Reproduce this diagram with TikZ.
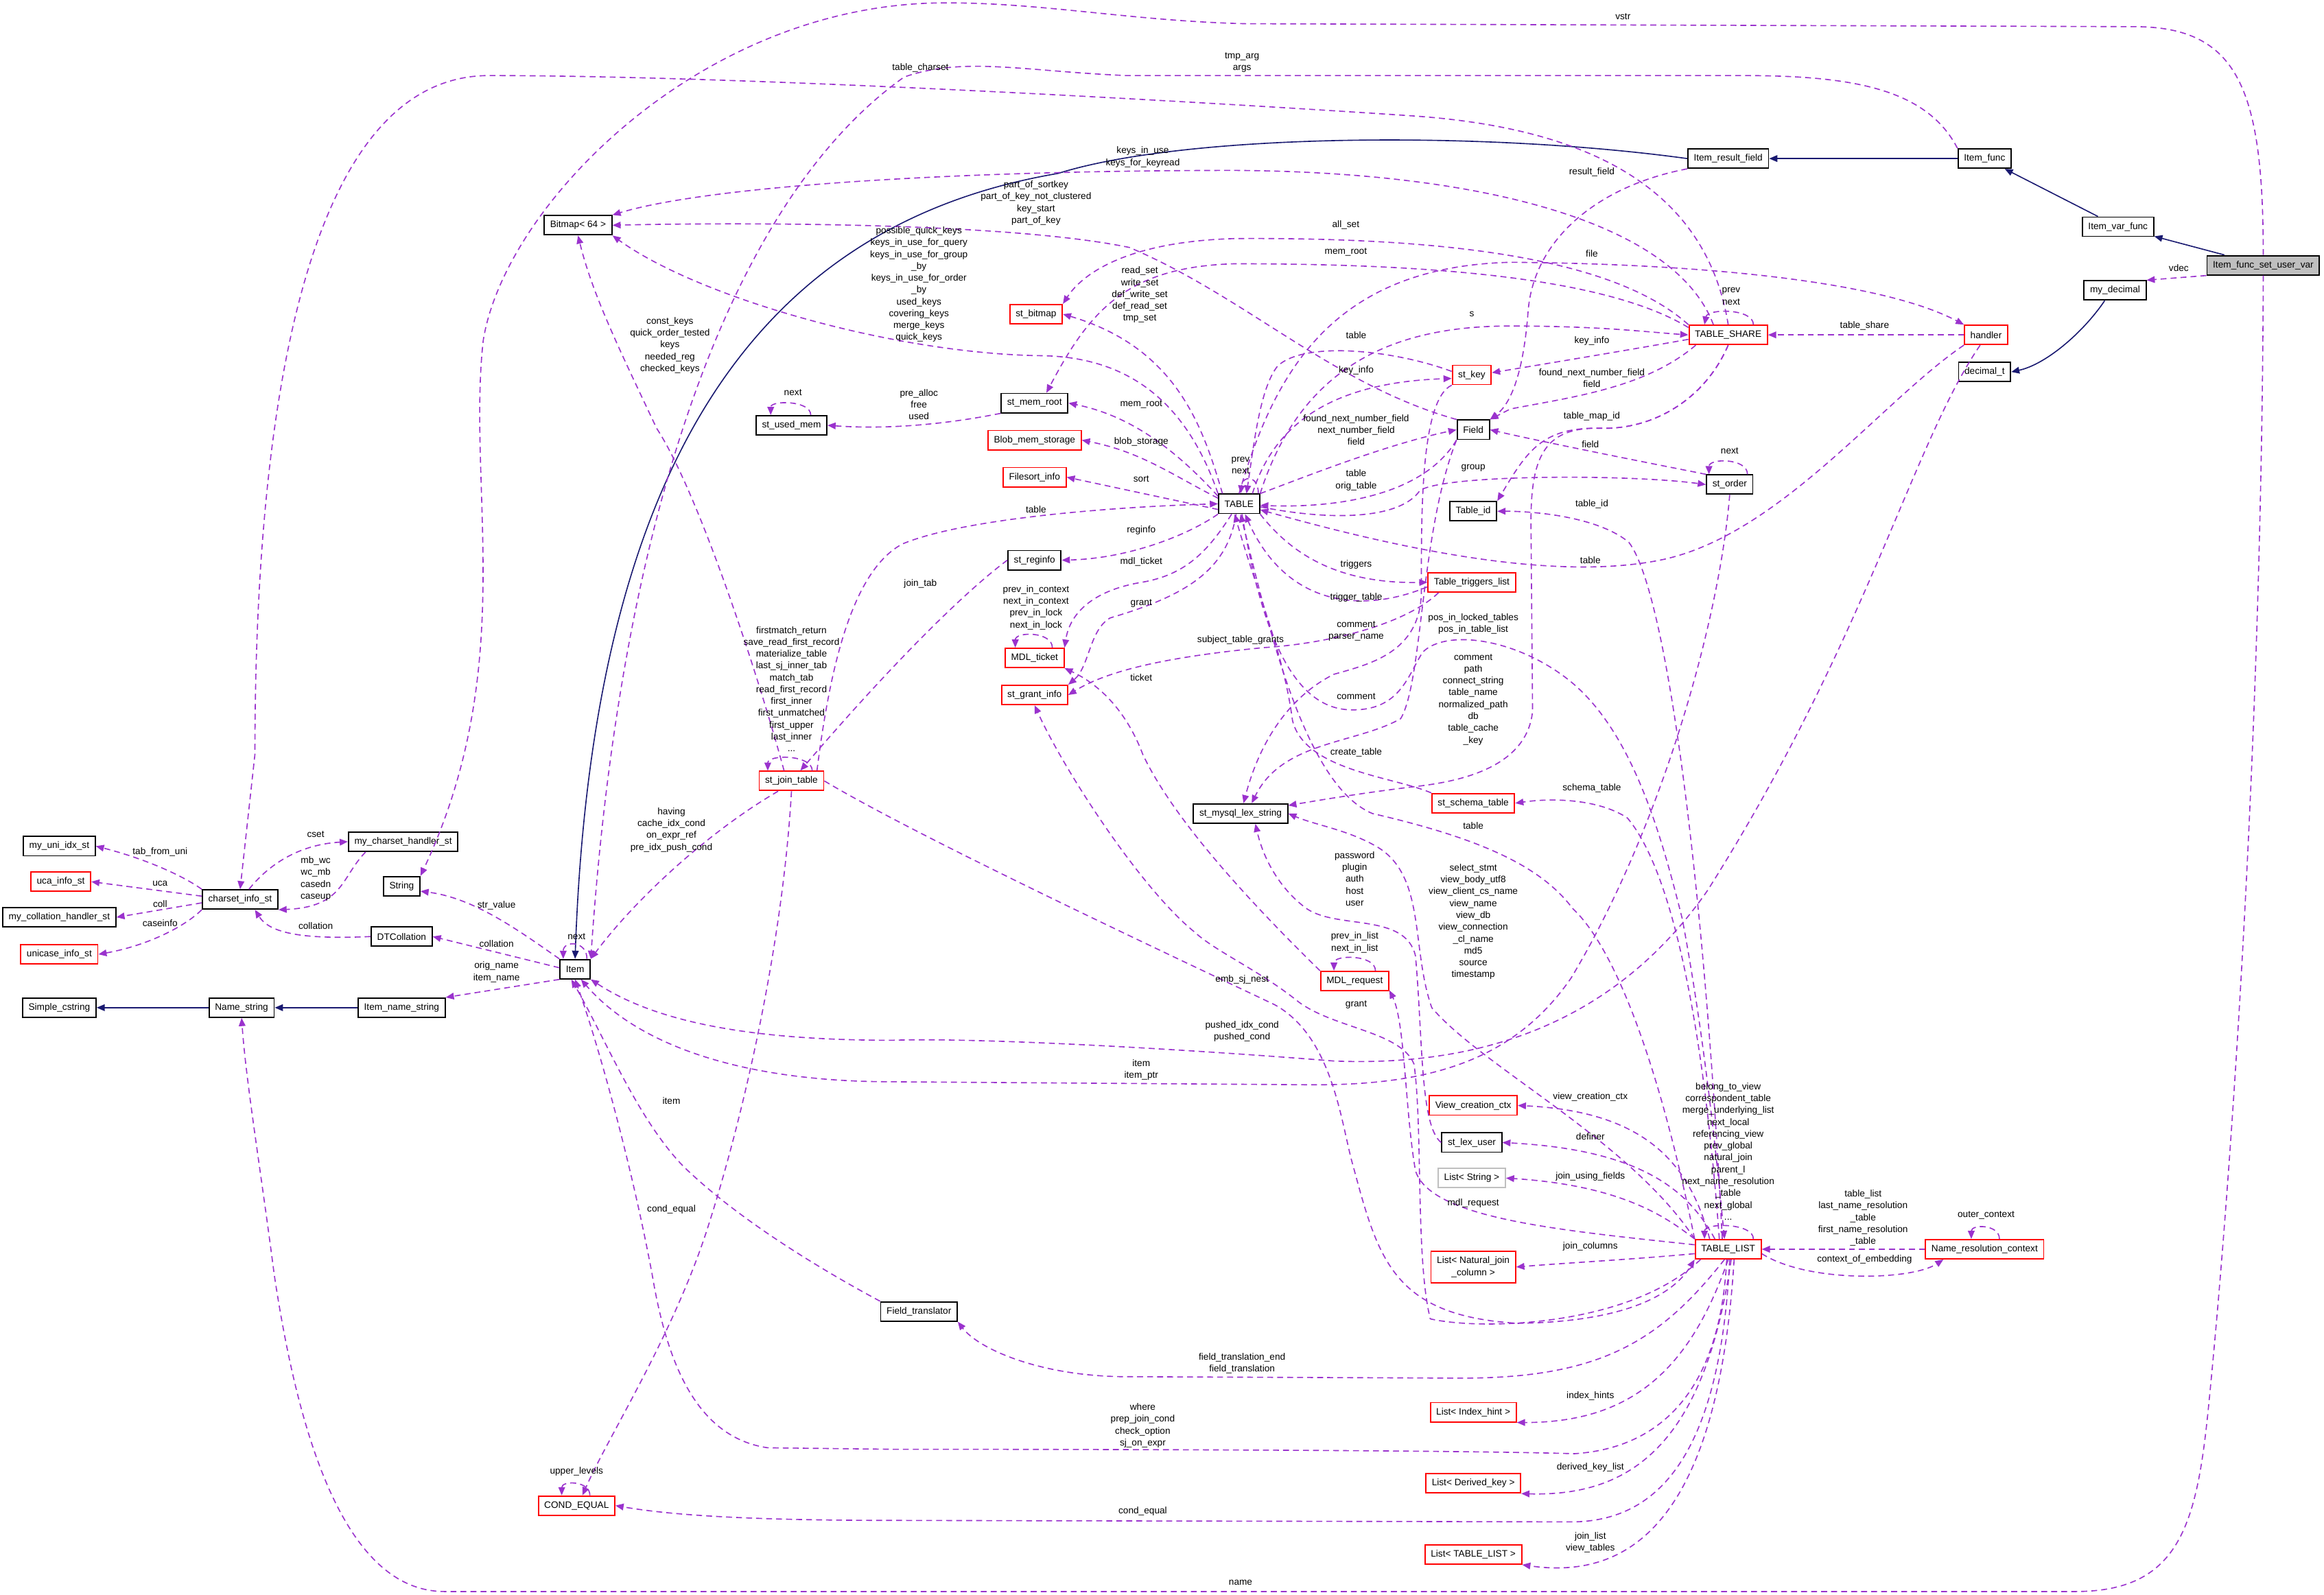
\documentclass[tikz,border=0pt]{standalone}
\usepackage{fontspec}
\setmainfont{Liberation Sans}
\usetikzlibrary{arrows.meta}
\definecolor{relc}{RGB}{154,50,205}
\definecolor{inhc}{RGB}{25,25,112}
\definecolor{boxgrey}{RGB}{191,191,191}
\newcommand{\dxfont}{\fontsize{7.2}{9.1}\selectfont}
\tikzset{
  cls/.style={draw=black, fill=white, line width=0.35mm, font=\dxfont, align=center,
    inner xsep=1.6mm, inner ysep=0.3mm, minimum height=5.2mm},
  clsred/.style={cls, draw=red},
  clsgrey/.style={cls, draw=boxgrey},
  clsmain/.style={cls, fill=boxgrey},
  % member and base class edges
  rel/.style={draw=relc, line width=0.3mm, dash pattern=on 1.6mm off 1.1mm,
    -{Triangle[length=2.2mm,width=1.8mm]}},
  inh/.style={draw=inhc, line width=0.3mm, -{Triangle[length=2.2mm,width=1.8mm]}},
  lbl/.style={font=\dxfont, align=center, inner sep=0pt}
}

\begin{document}
\begin{tikzpicture}[x=0.4mm, y=-0.4mm]
  \useasboundingbox (0,0) rectangle (1568,1076);

  % classes
  \node[clsmain] (isu) at (1527,179) {Item\_func\_set\_user\_var};
  \node[cls] (ivf) at (1429,153) {Item\_var\_func};
  \node[cls] (ifn) at (1339,107) {Item\_func};
  \node[cls] (irf) at (1166,107) {Item\_result\_field};
  \node[cls] (mdec) at (1427,196) {my\_decimal};
  \node[cls] (dect) at (1339,251) {decimal\_t};
  \node[clsred] (hnd) at (1340,226) {handler};
  \node[clsred] (tshare) at (1166,226) {TABLE\_SHARE};
  \node[cls] (bmp) at (390,152) {Bitmap< 64 >};
  \node[clsred] (stbmp) at (699,212) {st\_bitmap};
  \node[clsred] (stkey) at (993,253) {st\_key};
  \node[cls] (fld) at (994,290) {Field};
  \node[cls] (memroot) at (698,272) {st\_mem\_root};
  \node[cls] (usedmem) at (534,287) {st\_used\_mem};
  \node[clsred] (blob) at (698,297) {Blob\_mem\_storage};
  \node[clsred] (fsort) at (698,322) {Filesort\_info};
  \node[cls] (tbl) at (836,340) {TABLE};
  \node[cls] (tid) at (994,345) {Table\_id};
  \node[cls] (order) at (1167,327) {st\_order};
  \node[cls] (reginfo) at (698,378) {st\_reginfo};
  \node[clsred] (trig) at (993,393) {Table\_triggers\_list};
  \node[clsred] (mdlt) at (698,444) {MDL\_ticket};
  \node[clsred] (grant) at (698,469) {st\_grant\_info};
  \node[clsred] (jtab) at (534,527) {st\_join\_table};
  \node[clsred] (schema) at (994,542) {st\_schema\_table};
  \node[cls] (lexstr) at (837,549) {st\_mysql\_lex\_string};
  \node[cls] (uniidx) at (40,571) {my\_uni\_idx\_st};
  \node[cls] (chh) at (272,568) {my\_charset\_handler\_st};
  \node[clsred] (uca) at (41,595) {uca\_info\_st};
  \node[cls] (str) at (271,598) {String};
  \node[cls] (cs) at (162,607) {charset\_info\_st};
  \node[cls] (coll) at (40,619) {my\_collation\_handler\_st};
  \node[cls] (dtc) at (271,632) {DTCollation};
  \node[clsred] (unic) at (40,644) {unicase\_info\_st};
  \node[cls] (item) at (388,654) {Item};
  \node[cls] (scs) at (40,680) {Simple\_cstring};
  \node[cls] (nstr) at (163,680) {Name\_string};
  \node[cls] (instr) at (271,680) {Item\_name\_string};
  \node[clsred] (mdlr) at (914,662) {MDL\_request};
  \node[clsred] (vcc) at (994,746) {View\_creation\_ctx};
  \node[cls] (lexuser) at (993,771) {st\_lex\_user};
  \node[clsgrey] (lstr) at (993,795) {List< String >};
  \node[clsred] (tl) at (1166,843) {TABLE\_LIST};
  \node[clsred] (nrc) at (1339,843) {Name\_resolution\_context};
  \node[clsred, minimum height=8.4mm] (lnjc) at (994,855) {List< Natural\_join\\\_column >};
  \node[cls] (ftr) at (620,885) {Field\_translator};
  \node[clsred] (lih) at (994,953) {List< Index\_hint >};
  \node[clsred] (ldk) at (994,1001) {List< Derived\_key >};
  \node[clsred] (condeq) at (389,1016) {COND\_EQUAL};
  \node[clsred] (ltl) at (994,1049) {List< TABLE\_LIST >};

  % inheritance
  \draw[inh] (isu) -- (ivf);
  \draw[inh] (ivf) -- (ifn);
  \draw[inh] (ifn) -- (irf);
  \draw[inh] (irf.west) .. controls (1000,88) and (800,90) .. (714,117) .. controls (520,150) and (400,300) .. (item.north);
  \draw[inh] ([xshift=-2.8mm]mdec.south) .. controls (1405,225) and (1380,246) .. (dect.east);
  \draw[inh] (instr) -- (nstr);
  \draw[inh] (nstr) -- (scs);

  % Item_func_set_user_var, Item_func, Item_result_field
  \draw[rel] (isu.north) .. controls (1527,60) and (1510,18) .. (1440,18) -- (840,16) .. controls (760,14) and (700,1) .. (632,2) .. controls (470,5) and (340,140) .. (326,230) .. controls (315,330) and (350,450) .. (str.north east);
  \draw[rel] (isu.south west) -- (mdec.north east);
  \draw[rel] (isu.south) .. controls (1526,500) and (1505,800) .. (1490,950) .. controls (1482,1030) and (1470,1074) .. (1400,1074) -- (300,1074) .. controls (230,1074) and (200,960) .. (185,860) .. controls (176,790) and (166,730) .. (nstr.south);
  \draw[rel] (ifn.north west) .. controls (1300,60) and (1250,51) .. (1176,51) -- (760,51) .. controls (690,48) and (650,38) .. (610,52) .. controls (500,130) and (420,330) .. (item.north east);
  \draw[rel] (irf.south west) .. controls (1080,125) and (1035,160) .. (1031,210) .. controls (1028,250) and (1020,272) .. (fld.north east);

  % TABLE_SHARE
  \draw[rel] (tshare.north) .. controls (1150,120) and (1060,85) .. (950,78) .. controls (800,68) and (500,51) .. (330,51) .. controls (200,51) and (172,300) .. (172,509) -- (cs.north);
  \draw[rel] ([xshift=-4mm]tshare.north) .. controls (1130,150) and (1000,116) .. (833,115) .. controls (650,115) and (480,125) .. (bmp.north east);
  \draw[rel] (tshare.north west) .. controls (1090,175) and (980,160) .. (833,161) .. controls (760,163) and (730,185) .. (stbmp.north east);
  \draw[rel] ([yshift=2mm]tshare.west) .. controls (1080,185) and (950,178) .. (833,178) .. controls (760,180) and (735,210) .. ([xshift=3.2mm]memroot.north);
  \draw[rel] ([yshift=-1.2mm]tshare.west) .. controls (1100,236) and (1040,246) .. ([yshift=0.6mm]stkey.east);
  \draw[rel] ([xshift=2mm]tshare.south west) .. controls (1110,262) and (1060,268) .. (1019,276) -- (fld.north east);
  \draw[rel] (tshare.south) .. controls (1150,270) and (1115,290) .. (1080,289) .. controls (1040,288) and (1030,305) .. (tid.north east);
  \draw[rel] (tshare.south) .. controls (1150,270) and (1115,290) .. (1080,289) .. controls (1040,288) and (1032,310) .. (1033,360) -- (1034,480) .. controls (1030,520) and (980,528) .. (953,531) .. controls (920,535) and (890,540) .. (lexstr);
  \draw[rel] ([xshift=6.8mm]tshare.north) .. controls +(0,4.4mm) and +(0.8mm,4.4mm) .. ([xshift=-6.4mm]tshare.north);

  % handler
  \draw[rel] (hnd) -- (tshare);
  \draw[rel] (hnd.south west) .. controls (1270,270) and (1200,362) .. (1120,378) .. controls (1050,392) and (950,372) .. ([yshift=-1.6mm]tbl.east);
  \draw[rel] ([xshift=-1.6mm]hnd.south) .. controls (1290,300) and (1260,430) .. (1152,601) .. controls (1090,690) and (1000,720) .. (900,716) .. controls (800,708) and (660,700) .. (602,702) .. controls (500,702) and (440,688) .. (item.south east);

  % TABLE
  \draw[rel] ([xshift=5.2mm]tbl.north) .. controls +(0,5mm) and +(0.6mm,5mm) .. ([xshift=0.4mm]tbl.north);
  \draw[rel] (tbl.north east) .. controls (880,240) and (950,220) .. (1019,220) .. controls (1080,220) and (1110,224) .. (tshare.west);
  \draw[rel] (tbl.north) .. controls (860,250) and (900,180) .. (1019,177) .. controls (1150,178) and (1270,190) .. (hnd.north west);
  \draw[rel] (tbl.north west) .. controls (800,270) and (760,240) .. (700,240) .. controls (600,238) and (470,200) .. (bmp.south east);
  \draw[rel] ([xshift=1.2mm]tbl.north west) .. controls (812,290) and (795,235) .. (stbmp.east);
  \draw[rel] (tbl.160) .. controls (790,300) and (760,280) .. (memroot.east);
  \draw[rel] (tbl.165) .. controls (790,320) and (770,305) .. (blob.east);
  \draw[rel] (tbl.195) -- (fsort.east);
  \draw[rel] (tbl.south west) .. controls (800,362) and (760,377) .. (reginfo.east);
  \draw[rel] ([xshift=-2mm]tbl.south) .. controls (815,372) and (800,388) .. (770,393) .. controls (740,398) and (722,412) .. (mdlt.north east);
  \draw[rel] ([xshift=-0.8mm]tbl.south) .. controls (828,385) and (800,402) .. (749,417) .. controls (735,425) and (735,450) .. (grant.north east);
  \draw[rel] (tbl.south east) .. controls (870,372) and (900,394) .. (trig.west);
  \draw[rel] ([yshift=-1.2mm]trig.west) .. controls (920,414) and (868,410) .. ([xshift=1.6mm]tbl.south);
  \draw[rel] (stkey.170) .. controls (940,236) and (880,230) .. (862,247) .. controls (850,262) and (846,300) .. ([xshift=2mm]tbl.north);
  \draw[rel] ([xshift=3.6mm]tbl.north) .. controls (860,285) and (900,258) .. (stkey.190);
  \draw[rel] (tbl.north east) .. controls (880,322) and (935,300) .. (fld.west);
  \draw[rel] (fld.south west) .. controls (960,335) and (900,343) .. ([yshift=-0.4mm]tbl.east);
  \draw[rel] ([yshift=-0.8mm]tbl.east) .. controls (900,352) and (945,350) .. (958,331) .. controls (975,320) and (1100,320) .. (order.west);
  \draw[rel] ([xshift=0.8mm]tbl.south) .. controls (850,420) and (870,478) .. (911,479) .. controls (945,480) and (950,455) .. (960,440) .. controls (975,425) and (1020,430) .. (1056,457) .. controls (1100,490) and (1120,560) .. (1135,620) .. controls (1150,700) and (1158,780) .. ([xshift=-1mm]tl.north);
  \draw[rel] (schema.north west) .. controls (940,524) and (880,520) .. (872,486) .. controls (866,440) and (848,400) .. ([xshift=-1.2mm]tbl.south);
  \draw[rel] (fld.south west) .. controls (958,360) and (960,460) .. (945,485) .. controls (915,502) and (865,500) .. ([xshift=3mm]lexstr.north);
  \draw[rel] (stkey.south west) .. controls (958,270) and (959,350) .. (959,400) .. controls (958,440) and (925,448) .. (900,455) .. controls (870,470) and (850,500) .. ([xshift=0.8mm]lexstr.north);

  % st_order, Field
  \draw[rel] (order.north west) .. controls (1100,310) and (1040,298) .. (fld.east);
  \draw[rel] ([xshift=4.8mm]order.north) .. controls +(0,4.4mm) and +(0,4.4mm) .. ([xshift=-5.6mm]order.north);
  \draw[rel] (order.south) .. controls (1160,420) and (1120,560) .. (1060,660) .. controls (1020,718) and (960,733) .. (880,732) -- (602,730) .. controls (500,730) and (430,705) .. (item.300);
  \draw[rel] (fld.north west) .. controls (900,260) and (840,200) .. (762,167) .. controls (680,150) and (500,150) .. (bmp.east);

  % memory, reginfo, MDL
  \draw[rel] (memroot.south west) .. controls (640,286) and (600,290) .. (usedmem.east);
  \draw[rel] ([xshift=5.2mm]usedmem.north) .. controls +(0,4mm) and +(0,4mm) .. ([xshift=-5.6mm]usedmem.north);
  \draw[rel] (reginfo.west) .. controls (650,400) and (600,450) .. ([xshift=2.4mm]jtab.north);
  \draw[rel] ([xshift=4.8mm]mdlt.north) .. controls +(0,4.4mm) and +(0,4.4mm) .. ([xshift=-5.2mm]mdlt.north);
  \draw[rel] (mdlr.north west) .. controls (860,625) and (795,560) .. (771,509) .. controls (760,480) and (742,462) .. (mdlt.south east);
  \draw[rel] ([xshift=5.6mm]mdlr.north) .. controls +(0,4.4mm) and +(0,4.4mm) .. ([xshift=-5.6mm]mdlr.north);
  \draw[rel] ([xshift=3mm]trig.south west) .. controls (950,420) and (900,434) .. (853,437) .. controls (790,443) and (748,452) .. (grant.east);

  % st_join_table
  \draw[rel] ([xshift=5.6mm]jtab.north) .. controls +(0,4.4mm) and +(0,4.4mm) .. ([xshift=-6.4mm]jtab.north);
  \draw[rel] ([xshift=-2mm]jtab.north east) .. controls (560,450) and (575,385) .. (609,367) .. controls (650,350) and (750,342) .. (tbl.west);
  \draw[rel] ([xshift=-2mm]jtab.north) .. controls (510,450) and (470,330) .. (443,289) .. controls (420,240) and (400,200) .. (bmp.south);
  \draw[rel] ([xshift=-3.6mm]jtab.south) .. controls (480,560) and (430,605) .. (item.north east);
  \draw[rel] (jtab.south) .. controls (528,640) and (500,760) .. (476,833) .. controls (452,905) and (410,970) .. ([xshift=1.6mm]condeq.north);
  \draw[rel] (jtab.east) .. controls (620,565) and (780,640) .. (860,678) .. controls (900,700) and (905,760) .. (913,787) .. controls (930,850) and (940,888) .. (1024,893) .. controls (1100,892) and (1130,872) .. (tl.south west);
  \draw[rel] ([xshift=3.6mm]condeq.north) .. controls +(0,4mm) and +(0,4mm) .. ([xshift=-4mm]condeq.north);

  % Item and charset
  \draw[rel] ([xshift=3.2mm]item.north) .. controls +(0,5mm) and +(0,5mm) .. ([xshift=-3.2mm]item.north);
  \draw[rel] (item.north west) .. controls (350,628) and (320,606) .. (str.345);
  \draw[rel] (item.175) -- (dtc.east);
  \draw[rel] (item.south west) -- (instr.north east);
  \draw[rel] (cs.north west) .. controls (125,592) and (100,580) .. (uniidx.east);
  \draw[rel] (cs.175) -- (uca.east);
  \draw[rel] (cs.185) -- (coll.east);
  \draw[rel] (cs.south west) .. controls (125,625) and (100,638) .. (unic.east);
  \draw[rel] ([xshift=2.4mm]cs.north) .. controls (180,585) and (200,570) .. (chh.west);
  \draw[rel] ([xshift=4.8mm]chh.south west) .. controls (230,592) and (232,612) .. (cs.south east);
  \draw[rel] (dtc.west) .. controls (205,634) and (182,630) .. ([xshift=4mm]cs.south);
  \draw[rel] (ftr.north west) .. controls (560,860) and (500,825) .. (461,787) .. controls (430,755) and (408,700) .. (item.250);

  % TABLE_LIST
  \draw[rel] (tl.north west) .. controls (1120,720) and (1090,640) .. (1061,613) .. controls (1040,585) and (1000,566) .. (926,549) .. controls (880,530) and (855,420) .. ([xshift=0.4mm]tbl.south);
  \draw[rel] ([xshift=-2.4mm]tl.north) .. controls (1150,700) and (1130,590) .. (1098,552) .. controls (1080,540) and (1050,538) .. (schema.east);
  \draw[rel] ([xshift=-1.6mm]tl.north) .. controls (1150,600) and (1125,400) .. (1099,366) .. controls (1080,350) and (1040,345) .. (tid.east);
  \draw[rel] (tl.north west) .. controls (1100,770) and (1000,720) .. (966,680) .. controls (952,640) and (962,592) .. (930,572) .. controls (910,560) and (888,557) .. (lexstr.east);
  \draw[rel] (lexuser.west) .. controls (958,760) and (960,700) .. (955,645) .. controls (948,615) and (900,628) .. (880,612) .. controls (862,598) and (852,578) .. ([xshift=4mm]lexstr.south);
  \draw[rel] ([yshift=1.2mm]tl.west) .. controls (1050,830) and (965,822) .. (955,790) .. controls (948,750) and (948,690) .. (mdlr.345);
  \draw[rel] ([xshift=1.6mm]tl.south west) .. controls (1100,895) and (1000,898) .. (965,890) .. controls (955,850) and (960,760) .. (954,718) .. controls (945,696) and (900,694) .. (876,676) .. controls (850,655) and (820,642) .. (806,629) .. controls (770,600) and (718,520) .. (grant.south);
  \draw[rel] ([xshift=-5mm]tl.north) .. controls (1140,785) and (1110,750) .. (vcc.east);
  \draw[rel] ([xshift=-3.6mm]tl.north) .. controls (1140,805) and (1110,776) .. (lexuser.east);
  \draw[rel] (tl.north west) .. controls (1125,822) and (1095,800) .. (lstr.east);
  \draw[rel] ([xshift=6.8mm]tl.north) .. controls +(0,4.4mm) and +(0,4.4mm) .. ([xshift=-6.4mm]tl.north);
  \draw[rel] (nrc) -- (tl);
  \draw[rel] ([yshift=-1.2mm]tl.east) .. controls (1220,866) and (1290,864) .. ([xshift=5mm]nrc.south west);
  \draw[rel] ([xshift=4mm]nrc.north) .. controls +(0,4mm) and +(0,4mm) .. ([xshift=-3.6mm]nrc.north);
  \draw[rel] ([yshift=-1.2mm]tl.west) .. controls (1100,850) and (1060,852) .. (lnjc.east);
  \draw[rel] ([xshift=-1mm]tl.south) .. controls (1120,905) and (1080,930) .. (986,930) -- (756,929) .. controls (700,928) and (660,910) .. (ftr.south east);
  \draw[rel] (tl.south) .. controls (1140,925) and (1100,960) .. (lih.south east);
  \draw[rel] ([xshift=0.8mm]tl.south) .. controls (1150,975) and (1100,1010) .. (ldk.south east);
  \draw[rel] ([xshift=1.6mm]tl.south) .. controls (1160,1010) and (1110,1068) .. (ltl.south east);
  \draw[rel] ([xshift=-0.4mm]tl.south) .. controls (1160,950) and (1110,978) .. (1062,981) .. controls (1000,979) and (800,978) .. (602,978) -- (518,977) .. controls (470,970) and (450,920) .. (440,860) .. controls (425,780) and (402,700) .. (item.south);
  \draw[rel] ([xshift=0.4mm]tl.south) .. controls (1160,995) and (1110,1026) .. (1062,1027) -- (602,1026) .. controls (500,1026) and (450,1022) .. (condeq.east);

  % edge labels
  \node[lbl] (lbvstr) at (1095,11) {vstr};
  \node[lbl] (lbargs) at (838,42) {tmp\_arg\\args};
  \node[lbl] (lbtcs) at (621,46) {table\_charset};
  \node[lbl] (lbkiu) at (771,106) {keys\_in\_use\\keys\_for\_keyread};
  \node[lbl] (lbresf) at (1074,116) {result\_field};
  \node[lbl] (lbpok) at (699,137) {part\_of\_sortkey\\part\_of\_key\_not\_clustered\\key\_start\\part\_of\_key};
  \node[lbl] (lballs) at (908,152) {all\_set};
  \node[lbl] (lbpqk) at (620,192) {possible\_quick\_keys\\keys\_in\_use\_for\_query\\keys\_in\_use\_for\_group\\\_by\\keys\_in\_use\_for\_order\\\_by\\used\_keys\\covering\_keys\\merge\_keys\\quick\_keys};
  \node[lbl] (lbmr1) at (908,170) {mem\_root};
  \node[lbl] (lbfile) at (1074,171) {file};
  \node[lbl] (lbrs) at (769,199) {read\_set\\write\_set\\def\_write\_set\\def\_read\_set\\tmp\_set};
  \node[lbl] (lbs) at (993,212) {s};
  \node[lbl] (lbtab1) at (915,226) {table};
  \node[lbl] (lbki1) at (1074,230) {key\_info};
  \node[lbl] (lbpn1) at (1168,200) {prev\\next};
  \node[lbl] (lbtsh) at (1258,220) {table\_share};
  \node[lbl] (lbvdec) at (1470,181) {vdec};
  \node[lbl] (lbki2) at (915,250) {key\_info};
  \node[lbl] (lbfnf1) at (1074,255) {found\_next\_number\_field\\field};
  \node[lbl] (lbck) at (452,233) {const\_keys\\quick\_order\_tested\\keys\\needed\_reg\\checked\_keys};
  \node[lbl] (lbnext1) at (535,265) {next};
  \node[lbl] (lbpre) at (620,273) {pre\_alloc\\free\\used};
  \node[lbl] (lbmr2) at (770,273) {mem\_root};
  \node[lbl] (lbfnf2) at (915,290) {found\_next\_number\_field\\next\_number\_field\\field};
  \node[lbl] (lbtmi) at (1074,281) {table\_map\_id};
  \node[lbl] (lbblob) at (770,298) {blob\_storage};
  \node[lbl] (lbfld) at (1073,300) {field};
  \node[lbl] (lbnext2) at (1167,304) {next};
  \node[lbl] (lbpn2) at (837,314) {prev\\next};
  \node[lbl] (lborig) at (915,324) {table\\orig\_table};
  \node[lbl] (lbgrp) at (994,316) {group};
  \node[lbl] (lbsort) at (770,323) {sort};
  \node[lbl] (lbtid) at (1074,340) {table\_id};
  \node[lbl] (lbtab2) at (699,344) {table};
  \node[lbl] (lbreg) at (770,358) {reginfo};
  \node[lbl] (lbtab3) at (1073,378) {table};
  \node[lbl] (lbmdlt) at (770,379) {mdl\_ticket};
  \node[lbl] (lbtrg) at (915,381) {triggers};
  \node[lbl] (lbjt) at (621,394) {join\_tab};
  \node[lbl] (lbttab) at (915,403) {trigger\_table};
  \node[lbl] (lbpic) at (699,410) {prev\_in\_context\\next\_in\_context\\prev\_in\_lock\\next\_in\_lock};
  \node[lbl] (lbgr1) at (770,407) {grant};
  \node[lbl] (lbcpn) at (915,426) {comment\\parser\_name};
  \node[lbl] (lbstg) at (837,432) {subject\_table\_grants};
  \node[lbl] (lbpos) at (994,421) {pos\_in\_locked\_tables\\pos\_in\_table\_list};
  \node[lbl] (lbcom1) at (994,472) {comment\\path\\connect\_string\\table\_name\\normalized\_path\\db\\table\_cache\\\_key};
  \node[lbl] (lbtick) at (770,457) {ticket};
  \node[lbl] (lbcom2) at (915,470) {comment};
  \node[lbl] (lbfm) at (534,465) {firstmatch\_return\\save\_read\_first\_record\\materialize\_table\\last\_sj\_inner\_tab\\match\_tab\\read\_first\_record\\first\_inner\\first\_unmatched\\first\_upper\\last\_inner\\...};
  \node[lbl] (lbct) at (915,508) {create\_table};
  \node[lbl] (lbsch) at (1074,532) {schema\_table};
  \node[lbl] (lbtab4) at (994,557) {table};
  \node[lbl] (lbhav) at (453,560) {having\\cache\_idx\_cond\\on\_expr\_ref\\pre\_idx\_push\_cond};
  \node[lbl] (lbpwd) at (914,593) {password\\plugin\\auth\\host\\user};
  \node[lbl] (lbsel) at (994,622) {select\_stmt\\view\_body\_utf8\\view\_client\_cs\_name\\view\_name\\view\_db\\view\_connection\\\_cl\_name\\md5\\source\\timestamp};
  \node[lbl] (lbcset) at (213,563) {cset};
  \node[lbl] (lbmbwc) at (213,593) {mb\_wc\\wc\_mb\\casedn\\caseup};
  \node[lbl] (lbtfu) at (108,575) {tab\_from\_uni};
  \node[lbl] (lbuca) at (108,596) {uca};
  \node[lbl] (lbcoll) at (108,610) {coll};
  \node[lbl] (lbcasei) at (108,623) {caseinfo};
  \node[lbl] (lbcol1) at (213,625) {collation};
  \node[lbl] (lbstrv) at (335,611) {str\_value};
  \node[lbl] (lbnext3) at (389,632) {next};
  \node[lbl] (lbcol2) at (335,637) {collation};
  \node[lbl] (lbname1) at (335,656) {orig\_name\\item\_name};
  \node[lbl] (lbpil) at (914,636) {prev\_in\_list\\next\_in\_list};
  \node[lbl] (lbemb) at (838,661) {emb\_sj\_nest};
  \node[lbl] (lbgr2) at (915,678) {grant};
  \node[lbl] (lbpush) at (838,696) {pushed\_idx\_cond\\pushed\_cond};
  \node[lbl] (lbitem1) at (770,722) {item\\item\_ptr};
  \node[lbl] (lbitem2) at (453,743) {item};
  \node[lbl] (lbvcc) at (1073,740) {view\_creation\_ctx};
  \node[lbl] (lbdef) at (1073,767) {definer};
  \node[lbl] (lbjuf) at (1073,794) {join\_using\_fields};
  \node[lbl] (lbbtv) at (1166,777) {belong\_to\_view\\correspondent\_table\\merge\_underlying\_list\\next\_local\\referencing\_view\\prev\_global\\natural\_join\\parent\_l\\next\_name\_resolution\\\_table\\next\_global\\...};
  \node[lbl] (lbmdlr) at (994,812) {mdl\_request};
  \node[lbl] (lbtlist) at (1257,822) {table\_list\\last\_name\_resolution\\\_table\\first\_name\_resolution\\\_table};
  \node[lbl] (lbouter) at (1340,820) {outer\_context};
  \node[lbl] (lbctx) at (1258,850) {context\_of\_embedding};
  \node[lbl] (lbjc) at (1073,841) {join\_columns};
  \node[lbl] (lbceq1) at (453,816) {cond\_equal};
  \node[lbl] (lbft) at (838,920) {field\_translation\_end\\field\_translation};
  \node[lbl] (lbih) at (1073,942) {index\_hints};
  \node[lbl] (lbwhere) at (771,962) {where\\prep\_join\_cond\\check\_option\\sj\_on\_expr};
  \node[lbl] (lbdk) at (1073,990) {derived\_key\_list};
  \node[lbl] (lbup) at (389,993) {upper\_levels};
  \node[lbl] (lbceq2) at (771,1020) {cond\_equal};
  \node[lbl] (lbjl) at (1073,1041) {join\_list\\view\_tables};
  \node[lbl] (lbname) at (837,1068) {name};
\end{tikzpicture}
\end{document}
